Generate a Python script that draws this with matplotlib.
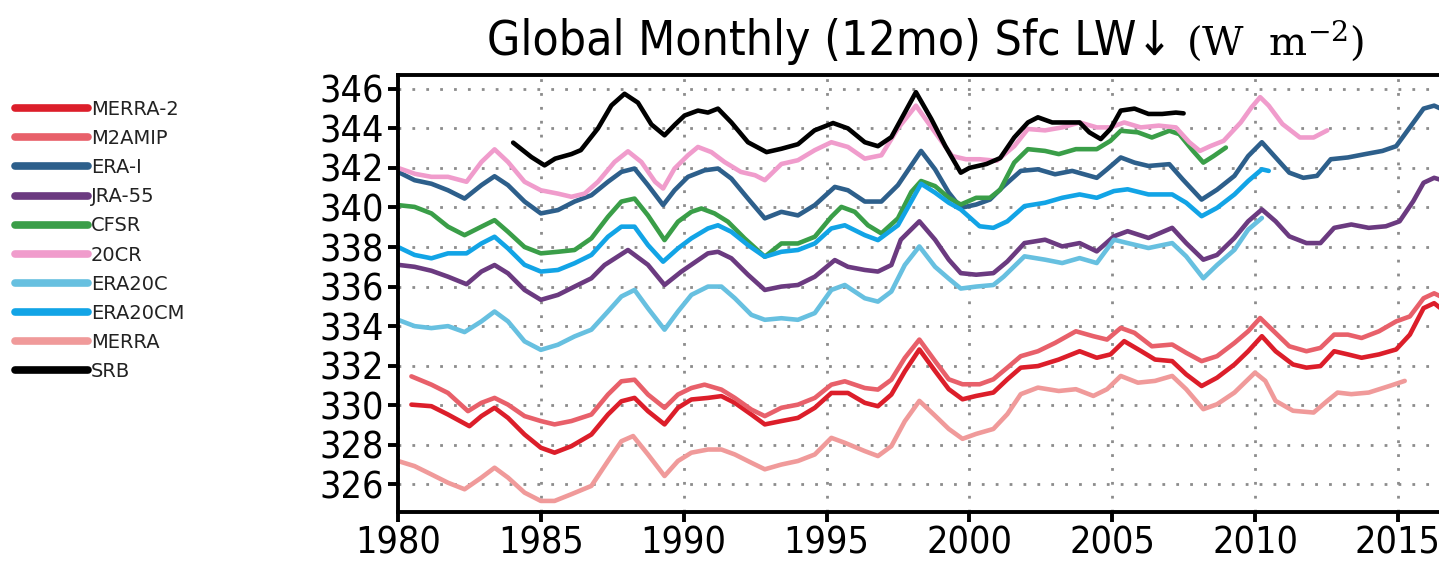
import matplotlib
matplotlib.use('Agg')
import matplotlib.pyplot as plt
from matplotlib.lines import Line2D

# series (year, W m-2)
names = ['MERRA-2', 'M2AMIP', 'ERA-I', 'JRA-55', 'CFSR', '20CR', 'ERA20C', 'ERA20CM', 'MERRA', 'SRB']
colors = ['#dc1e2a', '#e8606a', '#2d5f8b', '#6b3a80', '#3a9e48', '#f09ccc', '#67c0e0', '#12a4e6', '#f09a9a', '#000000']

merra2_yr = [1980.47, 1981.17, 1981.75, 1982.5, 1982.92, 1983.38, 1983.85, 1984.43, 1985.0, 1985.48, 1986.07, 1986.77,
             1987.35, 1987.82, 1988.28, 1988.75, 1989.33, 1989.8, 1990.27, 1990.85, 1991.32, 1991.79, 1992.37, 1992.84,
             1993.42, 1994.0, 1994.59, 1995.17, 1995.75, 1996.34, 1996.8, 1997.27, 1997.74, 1998.25, 1998.8, 1999.28,
             1999.76, 2000.24, 2000.84, 2001.33, 2001.8, 2002.4, 2003.13, 2003.86, 2004.46, 2004.94, 2005.42, 2006.02,
             2006.5, 2007.1, 2007.59, 2008.13, 2008.67, 2009.28, 2009.76, 2010.24, 2010.72, 2011.33, 2011.8, 2012.29,
             2012.77, 2013.25, 2013.73, 2014.34, 2014.94, 2015.42, 2015.9, 2016.27, 2016.5]
merra2_val = [330.03, 329.95, 329.53, 328.94, 329.45, 329.87, 329.36, 328.52, 327.85, 327.6, 327.93, 328.52,
              329.53, 330.2, 330.37, 329.7, 329.03, 329.87, 330.29, 330.37, 330.46, 330.12, 329.53, 329.03,
              329.2, 329.36, 329.87, 330.62, 330.62, 330.12, 329.95, 330.54, 331.71, 332.82, 331.73, 330.81,
              330.3, 330.47, 330.64, 331.31, 331.9, 331.98, 332.31, 332.73, 332.4, 332.57, 333.24, 332.73,
              332.31, 332.23, 331.56, 330.97, 331.39, 332.06, 332.73, 333.49, 332.73, 332.06, 331.9, 331.98,
              332.73, 332.57, 332.4, 332.57, 332.82, 333.57, 334.91, 335.16, 334.9]

m2amip_yr = [1980.47, 1981.17, 1981.75, 1982.45, 1982.92, 1983.38, 1983.85, 1984.43, 1985.0, 1985.48, 1986.07, 1986.77,
             1987.35, 1987.82, 1988.28, 1988.75, 1989.33, 1989.8, 1990.27, 1990.73, 1991.32, 1991.79, 1992.37, 1992.84,
             1993.42, 1994.0, 1994.59, 1995.17, 1995.64, 1996.34, 1996.8, 1997.27, 1997.74, 1998.25, 1998.8, 1999.28,
             1999.76, 2000.36, 2000.84, 2001.33, 2001.8, 2002.4, 2003.0, 2003.73, 2004.34, 2004.82, 2005.3, 2005.78,
             2006.39, 2007.1, 2007.59, 2008.13, 2008.67, 2009.28, 2009.76, 2010.18, 2010.6, 2011.2, 2011.8, 2012.29,
             2012.77, 2013.25, 2013.73, 2014.34, 2014.94, 2015.42, 2015.9, 2016.27, 2016.5]
m2amip_val = [331.46, 331.04, 330.62, 329.7, 330.12, 330.37, 330.03, 329.45, 329.2, 329.03, 329.2, 329.53,
              330.54, 331.21, 331.29, 330.54, 329.87, 330.54, 330.87, 331.04, 330.79, 330.37, 329.78, 329.45,
              329.87, 330.03, 330.37, 331.04, 331.21, 330.87, 330.79, 331.29, 332.39, 333.32, 332.23, 331.31,
              331.06, 331.06, 331.31, 331.9, 332.48, 332.73, 333.15, 333.74, 333.49, 333.32, 333.91, 333.66,
              332.98, 333.07, 332.65, 332.23, 332.48, 333.15, 333.74, 334.41, 333.82, 332.98, 332.73, 332.9,
              333.57, 333.57, 333.4, 333.74, 334.24, 334.49, 335.41, 335.66, 335.5]

erai_yr = [1980.0, 1980.58, 1981.17, 1981.75, 1982.33, 1982.92, 1983.38, 1983.85, 1984.43, 1985.0, 1985.6, 1986.18,
           1986.77, 1987.35, 1987.82, 1988.28, 1988.75, 1989.28, 1989.68, 1990.15, 1990.73, 1991.2, 1991.67, 1992.25,
           1992.84, 1993.42, 1994.0, 1994.59, 1995.29, 1995.75, 1996.34, 1996.92, 1997.5, 1998.31, 1998.8, 1999.28,
           1999.7, 2000.24, 2000.72, 2001.2, 2001.8, 2002.4, 2003.0, 2003.6, 2004.46, 2004.82, 2005.3, 2005.78,
           2006.27, 2007.0, 2007.47, 2008.13, 2008.67, 2009.28, 2009.76, 2010.24, 2010.72, 2011.2, 2011.69, 2012.17,
           2012.65, 2013.25, 2013.86, 2014.46, 2014.94, 2015.42, 2015.9, 2016.27, 2016.5]
erai_val = [341.8, 341.38, 341.2, 340.87, 340.45, 341.13, 341.58, 341.13, 340.3, 339.7, 339.87, 340.3,
            340.62, 341.3, 341.8, 341.97, 341.13, 340.12, 340.87, 341.55, 341.88, 341.97, 341.46, 340.45,
            339.45, 339.78, 339.6, 340.12, 341.04, 340.87, 340.3, 340.3, 341.13, 342.86, 341.93, 340.75,
            339.98, 340.15, 340.4, 341.08, 341.85, 341.93, 341.68, 341.85, 341.5, 341.93, 342.53, 342.27,
            342.1, 342.19, 341.42, 340.4, 340.9, 341.6, 342.6, 343.3, 342.53, 341.76, 341.5, 341.6,
            342.44, 342.53, 342.7, 342.86, 343.1, 344.05, 345.0, 345.15, 345.0]

jra55_yr = [1980.0, 1980.58, 1981.17, 1981.75, 1982.4, 1982.92, 1983.38, 1983.85, 1984.43, 1985.0, 1985.6, 1986.18,
            1986.77, 1987.23, 1988.05, 1988.75, 1989.33, 1989.92, 1990.85, 1991.2, 1991.67, 1992.25, 1992.84, 1993.42,
            1994.0, 1994.59, 1995.29, 1995.75, 1996.34, 1996.8, 1997.27, 1997.6, 1998.25, 1998.8, 1999.28, 1999.7,
            2000.24, 2000.84, 2001.33, 2001.93, 2002.65, 2003.25, 2003.86, 2004.46, 2005.06, 2005.54, 2006.27, 2007.1,
            2007.59, 2008.19, 2008.67, 2009.28, 2009.76, 2010.24, 2010.72, 2011.2, 2011.8, 2012.29, 2012.77, 2013.37,
            2013.98, 2014.58, 2015.06, 2015.54, 2015.9, 2016.27, 2016.5]
jra55_val = [337.1, 337.0, 336.8, 336.5, 336.12, 336.76, 337.09, 336.67, 335.83, 335.33, 335.58, 336.0,
             336.42, 337.09, 337.85, 337.1, 336.08, 336.76, 337.68, 337.76, 337.43, 336.6, 335.83, 336.0,
             336.08, 336.5, 337.34, 337.0, 336.84, 336.76, 337.09, 338.37, 339.3, 338.37, 337.36, 336.68,
             336.6, 336.68, 337.27, 338.2, 338.37, 338.03, 338.2, 337.78, 338.54, 338.8, 338.46, 338.97,
             338.2, 337.36, 337.6, 338.46, 339.3, 339.9, 339.3, 338.54, 338.2, 338.2, 338.97, 339.14,
             338.97, 339.05, 339.3, 340.32, 341.25, 341.5, 341.4]

cfsr_yr = [1980.0, 1980.58, 1981.17, 1981.75, 1982.33, 1982.92, 1983.38, 1983.85, 1984.43, 1985.0, 1985.6, 1986.18,
           1986.77, 1987.35, 1987.82, 1988.28, 1988.75, 1989.33, 1989.8, 1990.27, 1990.62, 1991.08, 1991.55, 1992.13,
           1992.84, 1993.42, 1994.0, 1994.59, 1995.17, 1995.52, 1995.99, 1996.45, 1996.92, 1997.5, 1997.97, 1998.31,
           1998.8, 1999.28, 1999.7, 2000.24, 2000.72, 2001.08, 2001.57, 2002.05, 2002.65, 2003.13, 2003.73, 2004.46,
           2004.94, 2005.3, 2005.9, 2006.39, 2007.0, 2007.35, 2007.83, 2008.19, 2008.55, 2008.98]
cfsr_val = [340.12, 340.03, 339.7, 339.03, 338.6, 339.03, 339.36, 338.77, 338.0, 337.68, 337.76, 337.85,
            338.44, 339.53, 340.3, 340.45, 339.6, 338.35, 339.28, 339.78, 339.95, 339.7, 339.28, 338.44,
            337.51, 338.18, 338.18, 338.52, 339.53, 340.03, 339.78, 339.1, 338.69, 339.45, 340.79, 341.34,
            341.08, 340.49, 340.15, 340.49, 340.49, 340.9, 342.27, 342.95, 342.86, 342.7, 342.95, 342.95,
            343.37, 343.88, 343.8, 343.54, 343.88, 343.71, 342.86, 342.27, 342.6, 343.03]

cr20_yr = [1980.0, 1980.6, 1981.17, 1981.75, 1982.4, 1982.92, 1983.38, 1983.85, 1984.43, 1985.0, 1985.6, 1986.07,
           1986.53, 1987.0, 1987.58, 1988.05, 1988.52, 1989.0, 1989.28, 1989.68, 1990.15, 1990.5, 1990.97, 1991.43,
           1992.0, 1992.5, 1992.84, 1993.42, 1994.0, 1994.59, 1995.17, 1995.75, 1996.34, 1996.92, 1997.5, 1998.13,
           1998.8, 1999.4, 1999.88, 2000.36, 2000.96, 2001.57, 2002.05, 2002.65, 2003.25, 2003.86, 2004.46, 2004.94,
           2005.42, 2006.0, 2006.63, 2007.23, 2007.7, 2008.07, 2008.43, 2008.9, 2009.5, 2009.88, 2010.18, 2010.48,
           2010.96, 2011.57, 2012.05, 2012.53]
cr20_val = [342.0, 341.7, 341.55, 341.55, 341.3, 342.3, 342.94, 342.3, 341.3, 340.87, 340.7, 340.54,
            340.7, 341.3, 342.3, 342.84, 342.3, 341.3, 340.96, 341.97, 342.64, 343.06, 342.8, 342.3,
            341.8, 341.63, 341.38, 342.2, 342.39, 342.9, 343.3, 343.06, 342.47, 342.64, 344.0, 345.15,
            343.8, 342.6, 342.44, 342.44, 342.36, 343.1, 343.97, 343.9, 344.05, 344.3, 344.05, 344.05,
            344.3, 344.05, 344.14, 344.05, 343.3, 342.86, 343.1, 343.37, 344.3, 345.07, 345.58, 345.15,
            344.22, 343.54, 343.54, 343.9]

era20c_yr = [1980.0, 1980.58, 1981.17, 1981.75, 1982.33, 1982.92, 1983.38, 1983.85, 1984.43, 1985.0, 1985.6, 1986.18,
             1986.77, 1987.35, 1987.82, 1988.28, 1988.75, 1989.33, 1989.8, 1990.27, 1990.85, 1991.32, 1991.79, 1992.37,
             1992.84, 1993.42, 1994.0, 1994.59, 1995.17, 1995.64, 1996.34, 1996.8, 1997.27, 1997.74, 1998.25, 1998.8,
             1999.28, 1999.7, 2000.24, 2000.84, 2001.2, 2001.93, 2002.65, 2003.25, 2003.86, 2004.46, 2005.06, 2005.54,
             2006.27, 2007.1, 2007.59, 2008.19, 2008.67, 2009.28, 2009.76, 2010.24]
era20c_val = [334.32, 334.0, 333.9, 334.0, 333.7, 334.24, 334.74, 334.24, 333.23, 332.8, 333.06, 333.48,
              333.82, 334.74, 335.5, 335.83, 334.9, 333.82, 334.74, 335.58, 336.0, 336.0, 335.41, 334.57,
              334.32, 334.4, 334.32, 334.66, 335.83, 336.08, 335.41, 335.24, 335.75, 337.09, 338.03, 337.0,
              336.4, 335.9, 336.0, 336.08, 336.5, 337.53, 337.36, 337.19, 337.44, 337.19, 338.37, 338.2,
              337.95, 338.2, 337.53, 336.42, 337.09, 337.86, 338.88, 339.47]

era20cm_yr = [1980.0, 1980.58, 1981.17, 1981.75, 1982.4, 1982.92, 1983.38, 1983.85, 1984.43, 1985.0, 1985.6, 1986.18,
              1986.77, 1987.35, 1987.82, 1988.28, 1988.75, 1989.28, 1989.8, 1990.27, 1990.85, 1991.2, 1991.67, 1992.25,
              1992.84, 1993.42, 1994.0, 1994.59, 1995.17, 1995.64, 1996.34, 1996.8, 1997.5, 1998.31, 1998.8, 1999.28,
              1999.7, 2000.36, 2000.84, 2001.33, 2001.93, 2002.65, 2003.25, 2003.86, 2004.46, 2005.06, 2005.54, 2006.27,
              2007.1, 2007.59, 2008.13, 2008.67, 2009.28, 2009.76, 2010.24, 2010.48]
era20cm_val = [338.0, 337.6, 337.43, 337.68, 337.68, 338.18, 338.52, 337.93, 337.1, 336.76, 336.84, 337.18,
               337.6, 338.52, 339.03, 339.03, 338.1, 337.26, 337.93, 338.44, 338.94, 339.1, 338.77, 338.1,
               337.51, 337.76, 337.85, 338.18, 338.94, 339.1, 338.6, 338.35, 339.1, 341.2, 340.75, 340.24,
               339.9, 339.05, 338.97, 339.3, 340.07, 340.24, 340.49, 340.66, 340.49, 340.83, 340.92, 340.66,
               340.66, 340.24, 339.56, 339.98, 340.66, 341.34, 341.93, 341.85]

merra_yr = [1980.0, 1980.58, 1981.17, 1981.75, 1982.33, 1982.92, 1983.38, 1983.85, 1984.43, 1985.0, 1985.48, 1986.07,
            1986.77, 1987.35, 1987.82, 1988.23, 1988.75, 1989.33, 1989.8, 1990.27, 1990.85, 1991.32, 1991.79, 1992.37,
            1992.84, 1993.42, 1994.0, 1994.59, 1995.17, 1995.64, 1996.34, 1996.8, 1997.27, 1997.74, 1998.25, 1998.8,
            1999.28, 1999.76, 2000.24, 2000.84, 2001.33, 2001.8, 2002.4, 2003.13, 2003.73, 2004.34, 2004.82, 2005.3,
            2005.9, 2006.5, 2007.1, 2007.59, 2008.19, 2008.67, 2009.28, 2010.0, 2010.36, 2010.72, 2011.33, 2012.05,
            2012.53, 2012.89, 2013.37, 2013.98, 2014.7, 2015.24]
merra_val = [327.18, 326.92, 326.5, 326.08, 325.75, 326.34, 326.84, 326.34, 325.58, 325.16, 325.16, 325.5,
             325.92, 327.18, 328.18, 328.44, 327.51, 326.42, 327.18, 327.6, 327.76, 327.76, 327.51, 327.09,
             326.76, 327.0, 327.18, 327.51, 328.35, 328.1, 327.68, 327.43, 327.93, 329.19, 330.22, 329.47,
             328.8, 328.3, 328.55, 328.8, 329.55, 330.56, 330.89, 330.72, 330.81, 330.47, 330.81, 331.48,
             331.14, 331.23, 331.48, 330.81, 329.8, 330.05, 330.64, 331.65, 331.23, 330.22, 329.72, 329.63,
             330.22, 330.64, 330.56, 330.64, 330.97, 331.23]

srb_yr = [1984.03, 1984.67, 1985.13, 1985.5, 1986.07, 1986.4, 1987.0, 1987.47, 1987.93, 1988.4, 1988.87, 1989.33,
          1989.7, 1990.03, 1990.5, 1990.85, 1991.2, 1991.67, 1992.25, 1992.9, 1993.42, 1994.0, 1994.58, 1995.23,
          1995.75, 1996.34, 1996.8, 1997.27, 1997.74, 1998.13, 1998.67, 1999.16, 1999.7, 2000.0, 2000.6, 2001.08,
          2001.57, 2002.05, 2002.4, 2002.9, 2003.37, 2003.86, 2004.2, 2004.6, 2004.94, 2005.3, 2005.78, 2006.27,
          2006.75, 2007.23, 2007.5]
srb_val = [343.28, 342.55, 342.13, 342.47, 342.7, 342.9, 344.0, 345.16, 345.75, 345.3, 344.2, 343.65,
           344.2, 344.65, 344.9, 344.8, 345.0, 344.3, 343.3, 342.8, 342.97, 343.2, 343.9, 344.27,
           344.0, 343.3, 343.1, 343.56, 344.8, 345.83, 344.47, 343.1, 341.76, 342.0, 342.2, 342.5,
           343.54, 344.3, 344.56, 344.3, 344.3, 344.3, 343.8, 343.46, 343.97, 344.9, 345.0, 344.73,
           344.73, 344.8, 344.76]

years = [merra2_yr, m2amip_yr, erai_yr, jra55_yr, cfsr_yr, cr20_yr, era20c_yr, era20cm_yr, merra_yr, srb_yr]
values = [merra2_val, m2amip_val, erai_val, jra55_val, cfsr_val, cr20_val, era20c_val, era20cm_val, merra_val, srb_val]

yticks = list(range(326, 347, 2))
xticks = list(range(1980, 2016, 5))

fig = plt.figure(figsize=(14.39, 5.67), dpi=100)
# axes run past the right edge of the picture, like the cropped original
ax = fig.add_axes([398/1439, 55/567, 1057/1439, 437/567])

for yr, val, c in zip(years, values, colors):
  ax.plot(yr, val, color=c, lw=3.3, solid_joinstyle='round', solid_capstyle='round')

ax.set_xlim(1980, 2017)
ax.set_ylim(324.6, 346.7)
ax.set_xticks(xticks)
ax.set_yticks(yticks)
ax.grid(True, color='#8c8c8c', lw=2.0, linestyle=(0, (1, 4)))
ax.set_axisbelow(True)
for s in ax.spines.values():
  s.set_linewidth(2.8)
ax.tick_params(direction='out', length=7, width=2.8, pad=3, labelsize=27)
for lab in ax.get_xticklabels() + ax.get_yticklabels():
  lab.set_fontstretch('condensed')

# title in two fonts
fig.text(487/1439, 1 - 55/567, 'Global Monthly (12mo) Sfc LW\u2193', fontsize=34.5,
         family=['DejaVu Sans'], fontstretch='condensed', va='baseline', ha='left')
fig.text(1186/1439, 1 - 55/567, r'(W  m$^{-2}$)', fontsize=29,
         family=['DejaVu Serif', 'DejaVu Sans'], math_fontfamily='dejavuserif',
         va='baseline', ha='left')

handles = [Line2D([], [], color=c, lw=5.5, solid_capstyle='round') for c in colors]
fig.legend(handles, names, loc='upper left', bbox_to_anchor=(15/1439, 1 - 100/567),
           frameon=False, fontsize=14, handlelength=3.75, handletextpad=0.15,
           labelspacing=0.52, borderpad=0, borderaxespad=0, labelcolor='#222222')

fig.savefig('out.png', dpi=100)
